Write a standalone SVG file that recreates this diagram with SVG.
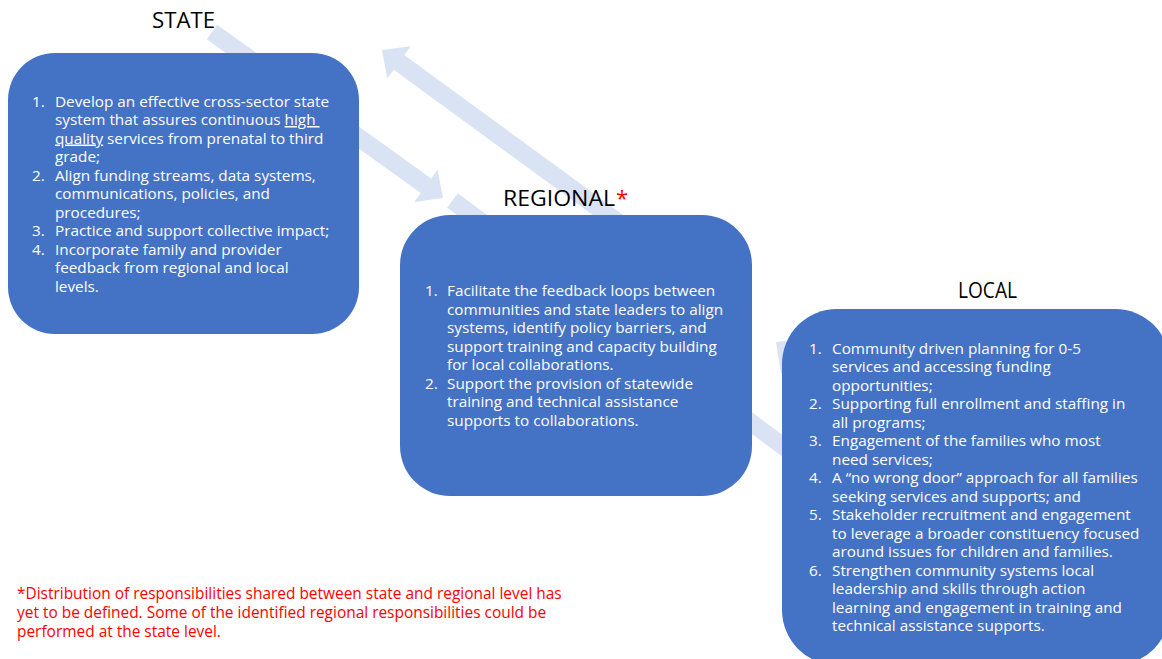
<svg xmlns="http://www.w3.org/2000/svg" width="1162" height="659" viewBox="0 0 1162 659">
<style>
.box{fill:#4472c4}
.arrow{fill:#dae3f3}
.t{font-family:"Open Sans","Noto Sans",sans-serif;font-size:15.3px;fill:#ffffff}
.title{font-family:"Open Sans","Noto Sans",sans-serif;font-size:22px;fill:#000000}
.note{font-family:"Open Sans","Noto Sans",sans-serif;font-size:15.45px;fill:#ff0000}
.u{text-decoration:underline}
</style>
<rect width="1162" height="659" fill="#ffffff"/>
<g id="connectors">
  <polygon class="arrow" points="217.2,24.7 431.2,178.4 437.6,169.5 443,198 414.3,202 420.7,193.1 206.8,39.3"/>
  <polygon class="arrow" points="382,50 410.8,46.2 404.3,55.1 654.3,237.7 643.7,252.3 393.7,69.7 387.2,78.6"/>
  <polygon class="arrow" points="457.9,193.3 839.5,477.5 848.6,470.5 853.5,499 824.8,502.5 830.5,492.5 447.1,207.7"/>
  <polygon class="arrow" points="776,342 795,340 795,380 781,373"/>
</g>
<g id="state">
  <text class="title" x="152" y="28" textLength="63" lengthAdjust="spacingAndGlyphs">STATE</text>
  <rect class="box" x="8" y="53" width="351" height="281" rx="47" ry="47"/>
  <text class="t">
    <tspan x="32" y="106.5">1.</tspan><tspan x="55" y="106.5">Develop an effective cross-sector state</tspan>
    <tspan x="55" y="125">system that assures continuous <tspan class="u">high </tspan></tspan>
    <tspan x="55" y="143.5"><tspan class="u">quality</tspan> services from prenatal to third</tspan>
    <tspan x="55" y="162">grade;</tspan>
    <tspan x="32" y="180.5">2.</tspan><tspan x="55" y="180.5">Align funding streams, data systems,</tspan>
    <tspan x="55" y="199">communications, policies, and</tspan>
    <tspan x="55" y="217.5">procedures;</tspan>
    <tspan x="32" y="236">3.</tspan><tspan x="55" y="236">Practice and support collective impact;</tspan>
    <tspan x="32" y="254.5">4.</tspan><tspan x="55" y="254.5">Incorporate family and provider</tspan>
    <tspan x="55" y="273">feedback from regional and local</tspan>
    <tspan x="55" y="291.5">levels.</tspan>
  </text>
</g>
<g id="regional">
  <text class="title" y="206"><tspan x="503" textLength="112" lengthAdjust="spacingAndGlyphs">REGIONAL</tspan><tspan x="616" fill="#ff0000">*</tspan></text>
  <rect class="box" x="400" y="215" width="352" height="281" rx="50" ry="50"/>
  <text class="t">
    <tspan x="425" y="296">1.</tspan><tspan x="447" y="296">Facilitate the feedback loops between</tspan>
    <tspan x="447" y="314.5">communities and state leaders to align</tspan>
    <tspan x="447" y="333">systems, identify policy barriers, and</tspan>
    <tspan x="447" y="351.5">support training and capacity building</tspan>
    <tspan x="447" y="370">for local collaborations.</tspan>
    <tspan x="425" y="388.5">2.</tspan><tspan x="447" y="388.5">Support the provision of statewide</tspan>
    <tspan x="447" y="407">training and technical assistance</tspan>
    <tspan x="447" y="425.5">supports to collaborations.</tspan>
  </text>
</g>
<g id="local">
  <text class="title" x="958" y="298" textLength="59" lengthAdjust="spacingAndGlyphs">LOCAL</text>
  <rect class="box" x="782" y="309" width="388" height="356" rx="55" ry="55"/>
  <text class="t">
    <tspan x="809" y="353.5">1.</tspan><tspan x="832" y="353.5">Community driven planning for 0-5</tspan>
    <tspan x="832" y="372">services and accessing funding</tspan>
    <tspan x="832" y="390.5">opportunities;</tspan>
    <tspan x="809" y="409">2.</tspan><tspan x="832" y="409">Supporting full enrollment and staffing in</tspan>
    <tspan x="832" y="427.5">all programs;</tspan>
    <tspan x="809" y="446">3.</tspan><tspan x="832" y="446">Engagement of the families who most</tspan>
    <tspan x="832" y="464.5">need services;</tspan>
    <tspan x="809" y="483">4.</tspan><tspan x="832" y="483">A “no wrong door” approach for all families</tspan>
    <tspan x="832" y="501.5">seeking services and supports; and</tspan>
    <tspan x="809" y="520">5.</tspan><tspan x="832" y="520">Stakeholder recruitment and engagement</tspan>
    <tspan x="832" y="538.5">to leverage a broader constituency focused</tspan>
    <tspan x="832" y="557">around issues for children and families.</tspan>
    <tspan x="809" y="575.5">6.</tspan><tspan x="832" y="575.5">Strengthen community systems local</tspan>
    <tspan x="832" y="594">leadership and skills through action</tspan>
    <tspan x="832" y="612.5">learning and engagement in training and</tspan>
    <tspan x="832" y="631">technical assistance supports.</tspan>
  </text>
</g>
<g id="footnote">
  <text class="note">
    <tspan x="17" y="599">*Distribution of responsibilities shared between state and regional level has</tspan>
    <tspan x="17" y="618">yet to be defined. Some of the identified regional responsibilities could be</tspan>
    <tspan x="17" y="637">performed at the state level.</tspan>
  </text>
</g>
</svg>
